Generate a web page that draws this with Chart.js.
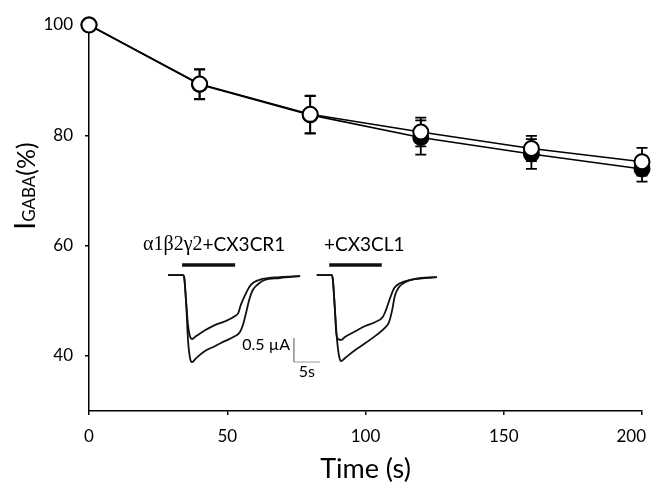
<!DOCTYPE html>
<html>
<head>
<meta charset="utf-8">
<script src="https://cdn.jsdelivr.net/npm/chart.js@4/dist/chart.umd.min.js"></script>
<style>
  html, body { margin: 0; padding: 0; background: #fff; }
  #wrap { width: 652px; height: 487px; }
</style>
</head>
<body>
<div id="wrap"><canvas id="gabaChart" width="652" height="487"></canvas></div>
<script>
// main series (time in s, IGABA in %)
const times = [0, 40, 80, 120, 160, 200];
const openMean = [100, 89.3, 83.8, 80.6, 77.6, 75.2];
const openErr = [0, 2.7, 3.4, 2.6, 2.3, 2.5];
const filledMean = [100, 89.2, 83.7, 79.6, 76.6, 73.9];
const filledErr = [0, 2.7, 3.4, 3.1, 2.7, 2.3];
const yTicks = [40, 60, 80, 100];
const xTicks = [0, 50, 100, 150, 200];

// inset current traces (t in s, I in µA)
const trace1Low = [[0.2,0],[3.1,0],[3.3,-0.04],[3.65,-0.52],[4.04,-1.35],[4.4,-1.71],[4.8,-1.81],[5.6,-1.73],[7.3,-1.58],[9.2,-1.48],[11.2,-1.37],[13.1,-1.27],[14.0,-1.19],[14.6,-1.04],[15.2,-0.79],[15.8,-0.52],[16.5,-0.31],[17.5,-0.19],[18.8,-0.10],[21.7,-0.06],[25.6,-0.02]];
const trace1High = [[0.2,0],[3.1,0],[3.3,-0.04],[3.65,-0.52],[4.04,-1.04],[4.4,-1.27],[4.8,-1.33],[5.6,-1.27],[7.3,-1.15],[9.2,-1.04],[11.2,-0.96],[13.1,-0.85],[13.7,-0.79],[14.2,-0.62],[15.0,-0.42],[15.8,-0.25],[16.7,-0.15],[18.3,-0.08],[21.7,-0.04],[25.6,-0.02]];
const trace2Low = [[28.8,0],[31.7,0],[31.9,-0.1],[32.3,-0.73],[32.7,-1.35],[33.1,-1.69],[33.5,-1.79],[34.2,-1.73],[36.2,-1.56],[38.1,-1.42],[40.0,-1.27],[41.9,-1.10],[42.7,-0.98],[43.3,-0.73],[43.8,-0.44],[44.6,-0.25],[45.8,-0.15],[47.7,-0.08],[51.9,-0.04]];
const trace2High = [[28.8,0],[31.7,0],[31.9,-0.1],[32.3,-0.73],[32.5,-1.15],[32.9,-1.33],[33.5,-1.35],[34.2,-1.29],[36.2,-1.17],[38.1,-1.06],[40.0,-0.98],[41.5,-0.87],[42.1,-0.73],[42.9,-0.48],[43.7,-0.27],[44.8,-0.17],[46.7,-0.10],[51.9,-0.04]];
const stimBar1 = [[2.9,0.21],[13.1,0.21]];
const stimBar2 = [[31.2,0.21],[41.3,0.21]];
const scaleBar = [[24.4,-1.31],[24.4,-1.81],[29.4,-1.81]];

const toXY = arr => arr.map(p => ({ x: p[0], y: p[1] }));

const errorBars = {
    id: 'errorBars',
    beforeDatasetsDraw(chart) {
        const ctx = chart.ctx;
        const xs = chart.scales.x, ys = chart.scales.y;
        ctx.save();
        ctx.strokeStyle = '#000';
        ctx.lineWidth = 1.8;
        [[filledMean, filledErr], [openMean, openErr]].forEach(([m, e]) => {
            times.forEach((t, i) => {
                if (!e[i]) return;
                const px = xs.getPixelForValue(t);
                const top = ys.getPixelForValue(m[i] + e[i]);
                const bot = ys.getPixelForValue(m[i] - e[i]);
                ctx.beginPath();
                ctx.moveTo(px, top); ctx.lineTo(px, bot);
                ctx.moveTo(px - 5.5, top); ctx.lineTo(px + 5.5, top);
                ctx.moveTo(px - 5.5, bot); ctx.lineTo(px + 5.5, bot);
                ctx.stroke();
            });
        });
        ctx.restore();
    }
};

const textBits = {
    id: 'textBits',
    afterDraw(chart) {
        const ctx = chart.ctx;
        const xs = chart.scales.x;
        const xi = chart.scales.xi, yi = chart.scales.yi;
        ctx.save();
        ctx.fillStyle = '#000';
        ctx.textBaseline = 'middle';

        // x tick labels (last one kept inside the canvas)
        ctx.font = '17px Lato';
        ctx.textAlign = 'left';
        xTicks.forEach(v => {
            const label = String(v);
            const w = ctx.measureText(label).width;
            let left = xs.getPixelForValue(v) - w / 2;
            left = Math.min(left, chart.width - 6 - w);
            ctx.fillText(label, left, xs.top + 26);
        });

        // y title: I GABA (%)
        const parts = [
            ['I', '28px Lato'],
            ['GABA', '17px Lato'],
            ['(%)', '25px Lato']
        ];
        ctx.save();
        ctx.translate(35, 186);
        ctx.rotate(-Math.PI / 2);
        ctx.textBaseline = 'alphabetic';
        let total = 0;
        parts.forEach(p => { ctx.font = p[1]; total += ctx.measureText(p[0]).width; });
        let cx = -total / 2;
        parts.forEach(p => {
            ctx.font = p[1];
            ctx.fillText(p[0], cx, 0);
            cx += ctx.measureText(p[0]).width;
        });
        ctx.restore();

        // inset labels
        let x = xi.getPixelForValue(-4.6);
        const yl = yi.getPixelForValue(0.625);
        ctx.font = '20px "Liberation Serif"';
        ctx.textAlign = 'left';
        ctx.fillText('α1β2γ2', x, yl);
        x += ctx.measureText('α1β2γ2').width;
        ctx.font = '19px Lato';
        ctx.fillText('+CX3CR1', x, yl);
        ctx.fillText('+CX3CL1', xi.getPixelForValue(30.2), yl);

        ctx.font = '16px Lato';
        ctx.textAlign = 'right';
        ctx.fillText('0.5 µA', xi.getPixelForValue(23.65), yi.getPixelForValue(-1.46));
        ctx.textAlign = 'center';
        ctx.fillText('5s', xi.getPixelForValue(26.9), yi.getPixelForValue(-2.02));
        ctx.restore();
    }
};

const traceStyle = { borderColor: '#111', borderWidth: 1.8, pointRadius: 0, xAxisID: 'xi', yAxisID: 'yi', cubicInterpolationMode: 'monotone', fill: false };

new Chart(document.getElementById('gabaChart'), {
    type: 'line',
    data: {
        datasets: [
            { ...traceStyle, data: toXY(trace1Low) },
            { ...traceStyle, data: toXY(trace1High) },
            { ...traceStyle, data: toXY(trace2Low) },
            { ...traceStyle, data: toXY(trace2High) },
            { ...traceStyle, data: toXY(stimBar1), borderWidth: 3.5, cubicInterpolationMode: 'default', borderCapStyle: 'butt' },
            { ...traceStyle, data: toXY(stimBar2), borderWidth: 3.5, cubicInterpolationMode: 'default', borderCapStyle: 'butt' },
            { ...traceStyle, data: toXY(scaleBar), borderWidth: 1, borderColor: '#999', cubicInterpolationMode: 'default' },
            {
                label: 'filled',
                data: times.map((t, i) => ({ x: t, y: filledMean[i] })),
                borderColor: '#000', borderWidth: 1.6,
                pointRadius: 7.5, pointBackgroundColor: '#000', pointBorderColor: '#000', pointBorderWidth: 2,
                order: 2, clip: false, xAxisID: 'x', yAxisID: 'y'
            },
            {
                label: 'open',
                data: times.map((t, i) => ({ x: t, y: openMean[i] })),
                borderColor: '#000', borderWidth: 1.6,
                pointRadius: 7.5, pointBackgroundColor: '#fff', pointBorderColor: '#000', pointBorderWidth: 2,
                order: 1, clip: false, xAxisID: 'x', yAxisID: 'y'
            }
        ]
    },
    options: {
        responsive: false,
        animation: false,
        events: [],
        layout: { padding: { top: 25, right: 10, left: 0, bottom: 0 } },
        plugins: { legend: { display: false }, tooltip: { enabled: false } },
        scales: {
            x: {
                type: 'linear', min: 0, max: 200,
                afterBuildTicks: s => { s.ticks = xTicks.map(v => ({ value: v })); },
                afterFit: s => { s.height = 76; s.paddingLeft = 0; s.paddingRight = 0; },
                grid: { drawOnChartArea: false, drawTicks: true, tickLength: 4, color: '#000', lineWidth: 1.5 },
                border: { color: '#000', width: 1.5 },
                ticks: { display: false },
                title: { display: true, text: 'Time (s)', color: '#000', font: { family: 'Lato', size: 27 }, padding: { top: 0, bottom: 2 } }
            },
            y: {
                type: 'linear', min: 30, max: 100,
                afterBuildTicks: s => { s.ticks = yTicks.map(v => ({ value: v })); },
                afterFit: s => { s.width = 89; s.paddingTop = 0; s.paddingBottom = 0; },
                grid: { drawOnChartArea: false, drawTicks: true, tickLength: 4, color: '#000', lineWidth: 1.5 },
                border: { color: '#000', width: 1.5 },
                ticks: { color: '#000', font: { family: 'Lato', size: 17 }, padding: 12 }
            },
            xi: { type: 'linear', display: false, min: -15, max: 91.35 },
            yi: { type: 'linear', display: false, min: -2.83, max: 5.21 }
        }
    },
    plugins: [errorBars, textBits]
});
</script>
</body>
</html>
